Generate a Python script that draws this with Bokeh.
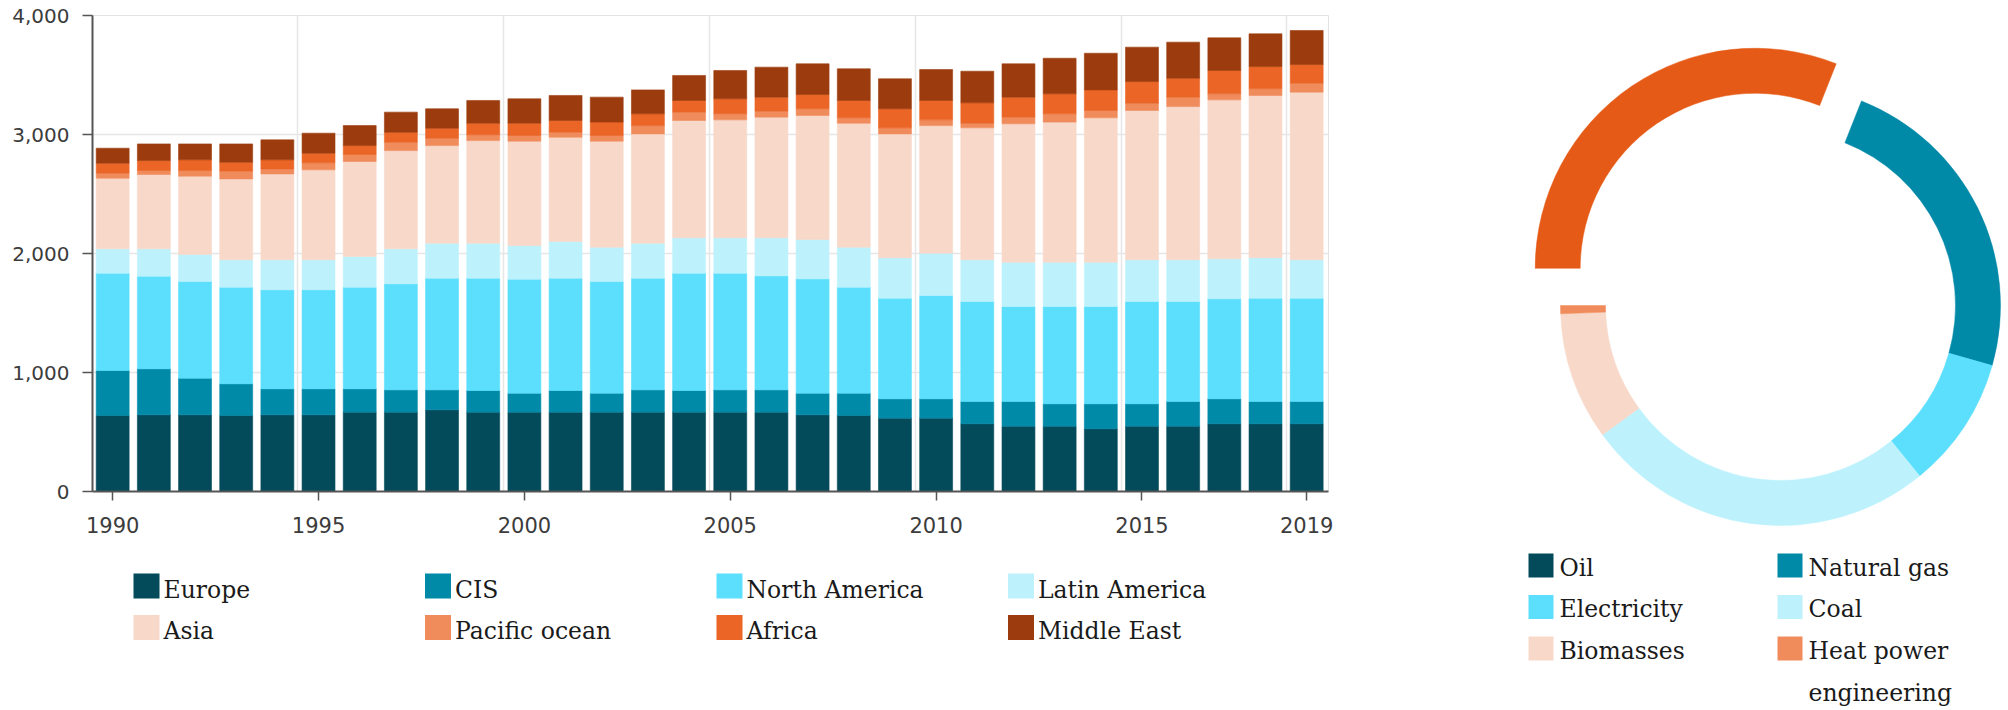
import math
import textwrap
from bokeh.plotting import figure
from bokeh.layouts import row, column
from bokeh.models import Range1d, FixedTicker, NumeralTickFormatter, ColumnDataSource
from bokeh.core.properties import value
from bokeh.embed import file_html
from bokeh.resources import INLINE

# ---------------- data ----------------
years = list(range(1990, 2020))
regions = ["Europe", "CIS", "North America", "Latin America",
           "Asia", "Pacific ocean", "Africa", "Middle East"]
europe = [639, 644, 644, 639, 644, 644, 667, 667, 686, 667, 667, 667, 667, 667, 667,
          667, 667, 644, 639, 616, 616, 569, 549, 549, 527, 549, 549, 569, 569, 569]
cis = [378, 387, 308, 266, 219, 219, 196, 187, 168, 182, 159, 182, 159, 187, 182,
       187, 187, 182, 187, 163, 163, 187, 207, 188, 210, 188, 207, 210, 187, 187]
north_america = [818, 778, 813, 812, 832, 832, 854, 891, 939, 944, 958, 944, 939, 939, 986,
                 981, 958, 961, 891, 846, 868, 841, 799, 818, 818, 860, 841, 840, 869, 869]
latin_america = [204, 230, 227, 230, 252, 252, 258, 294, 294, 294, 283, 308, 288, 294, 297,
                 297, 320, 331, 336, 339, 356, 350, 372, 372, 372, 350, 350, 336, 339, 322]
asia = [594, 625, 658, 680, 722, 756, 798, 826, 820, 862, 877, 876, 891, 918, 986,
        991, 1014, 1042, 1042, 1041, 1072, 1109, 1163, 1177, 1213, 1255, 1288, 1336, 1364, 1409]
pacific_ocean = [42, 33, 47, 65, 42, 59, 59, 70, 62, 48, 48, 42, 48, 70, 70,
                 51, 50, 56, 45, 51, 48, 39, 56, 70, 62, 61, 79, 51, 56, 75]
africa = [84, 84, 90, 75, 76, 81, 75, 84, 84, 98, 103, 99, 112, 99, 98,
          126, 118, 120, 146, 160, 163, 171, 168, 168, 173, 182, 159, 196, 187, 157]
middle_east = [126, 140, 134, 154, 168, 168, 168, 169, 163, 191, 205, 210, 210, 201, 210,
               238, 252, 258, 266, 252, 260, 266, 280, 299, 308, 289, 303, 274, 275, 286]
region_colors = ["#034a5a", "#0189a8", "#5bdffd", "#bdf2fd",
                 "#f8d8c9", "#f08c5c", "#ea6526", "#9c3c0e"]
year_ticks = [1990, 1995, 2000, 2005, 2010, 2015, 2019]
value_ticks = [0, 1000, 2000, 3000, 4000]

energy = ["Oil", "Natural gas", "Electricity", "Coal", "Biomasses", "Heat power engineering"]
energy_share = [31.0, 23.4, 9.7, 25.9, 9.4, 0.6]
energy_colors = ["#034a5a", "#0189a8", "#5bdffd", "#bdf2fd", "#f8d8c9", "#f08c5c"]
highlight_color = "#e55a16"   # colour of the pulled-out slice

# ---------------- style / layout ----------------
AX_FONT = "DejaVu Sans"
LEG_FONT = "DejaVu Serif"
LEG_SIZE = "23.5px"
TEXT_COL = "#1a1a1a"
H = 710            # page height: page y -> data y = H - y
BAR_W, BAR_H = 1340, 548
LEG_H = 158
TOTAL_W = 2004
TOTAL_H = BAR_H + LEG_H
BL, BR = 92, 12    # left / right borders of the bar chart frame

# ---------------- stacked bar chart ----------------
src = ColumnDataSource(dict(year=years, **{
    "Europe": europe, "CIS": cis, "North America": north_america,
    "Latin America": latin_america, "Asia": asia, "Pacific ocean": pacific_ocean,
    "Africa": africa, "Middle East": middle_east}))

p = figure(width=BAR_W, height=BAR_H,
           x_range=Range1d(1989.51, 2019.53), y_range=Range1d(0, 4000),
           output_backend="svg", toolbar_location=None,
           min_border_left=BL, min_border_top=15, min_border_right=BR, min_border_bottom=57)
p.vbar_stack(regions, x="year", width=0.8, source=src,
             fill_color=region_colors, line_color=region_colors, line_width=0.6)

p.outline_line_color = "#e3e3e3"
p.xgrid.ticker = FixedTicker(ticks=[t - 0.5 for t in year_ticks[1:]])
p.ygrid.ticker = FixedTicker(ticks=value_ticks)
p.grid.grid_line_color = "#e6e6e6"
p.grid.grid_line_width = 1.5

p.xaxis.ticker = FixedTicker(ticks=year_ticks)
p.yaxis.ticker = FixedTicker(ticks=value_ticks)
p.yaxis.formatter = NumeralTickFormatter(format="0,0")
for ax in (p.xaxis[0], p.yaxis[0]):
    ax.axis_line_color = "#555555"
    ax.axis_line_width = 2
    ax.major_tick_line_color = "#555555"
    ax.major_tick_line_width = 1.5
    ax.minor_tick_line_color = None
    ax.major_tick_in = 0
    ax.major_label_text_font = AX_FONT
    ax.major_label_text_color = "#3c3c3c"
p.xaxis.major_label_text_font_size = "21px"
p.yaxis.major_label_text_font_size = "20px"
p.xaxis.major_tick_out = 9
p.xaxis.major_label_standoff = 16
p.yaxis.major_tick_out = 10
p.yaxis.major_label_standoff = 13

# ---------------- bar legend (pixel-unit canvas below the chart) ----------------
lg = figure(width=BAR_W, height=LEG_H,
            x_range=Range1d(BL, BAR_W - BR), y_range=Range1d(H - TOTAL_H, H - BAR_H),
            output_backend="svg", toolbar_location=None,
            min_border_left=BL, min_border_right=BR, min_border_top=0, min_border_bottom=0,
            x_axis_type=None, y_axis_type=None)
lg.outline_line_color = None
lg.grid.visible = False
sq_x, sq_y, txt_x, txt_y = [], [], [], []
for i, name in enumerate(regions):
    c, r = i % 4, i // 4
    left = 133 + 291.5 * c
    top = 573 + 41.5 * r
    sq_x.append(left + 13)
    sq_y.append(H - (top + 12.5))
    txt_x.append(left + 30)
    txt_y.append(H - (top + 2))
lg.rect(x=sq_x, y=sq_y, width=26, height=25, fill_color=region_colors, line_color=None)
lg.text(x=txt_x, y=txt_y, text=regions, text_font=value(LEG_FONT),
        text_font_size=LEG_SIZE, text_color=TEXT_COL, text_baseline="top")

# ---------------- donut ----------------
DW = TOTAL_W - BAR_W
d = figure(width=DW, height=TOTAL_H,
           x_range=Range1d(BAR_W, TOTAL_W), y_range=Range1d(H - TOTAL_H, H),
           output_backend="svg", toolbar_location=None, min_border=0,
           x_axis_type=None, y_axis_type=None)
d.outline_line_color = None
d.grid.visible = False

CX, CY = 1780, H - 305
R_OUT, R_IN = 220, 175
EXPLODE = 45
total = sum(energy_share)
xs, ys, a0s, a1s, cols = [], [], [], [], []
ang = math.pi
for i, s in enumerate(energy_share):
    sweep = s / total * 2 * math.pi
    a0, a1 = ang, ang - sweep
    off = EXPLODE if i == 0 else 0
    mid = (a0 + a1) / 2
    xs.append(CX + off * math.cos(mid))
    ys.append(CY + off * math.sin(mid))
    a0s.append(a0)
    a1s.append(a1)
    cols.append(highlight_color if i == 0 else energy_colors[i])
    ang = a1
d.annular_wedge(x=xs, y=ys, inner_radius=R_IN, outer_radius=R_OUT,
                start_angle=a0s, end_angle=a1s, direction="clock",
                fill_color=cols, line_color=cols, line_width=0.5)

# donut legend
dsx, dsy, dtx, dty = [], [], [], []
for i, name in enumerate(energy):
    c, r = i % 2, i // 2
    left = 1528 + 249 * c
    top = 553 + 41.5 * r
    dsx.append(left + 12.5)
    dsy.append(H - (top + 12))
    dtx.append(left + 31)
    dty.append(H - top)
d.rect(x=dsx, y=dsy, width=25, height=24, fill_color=energy_colors, line_color=None)
d.text(x=dtx, y=dty, text=[textwrap.fill(n, 12) for n in energy],
       text_font=value(LEG_FONT), text_font_size=LEG_SIZE, text_color=TEXT_COL,
       text_baseline="top", text_line_height=1.5)

layout = row(column(p, lg), d)
open("out.html", "w").write(file_html(layout, INLINE))
